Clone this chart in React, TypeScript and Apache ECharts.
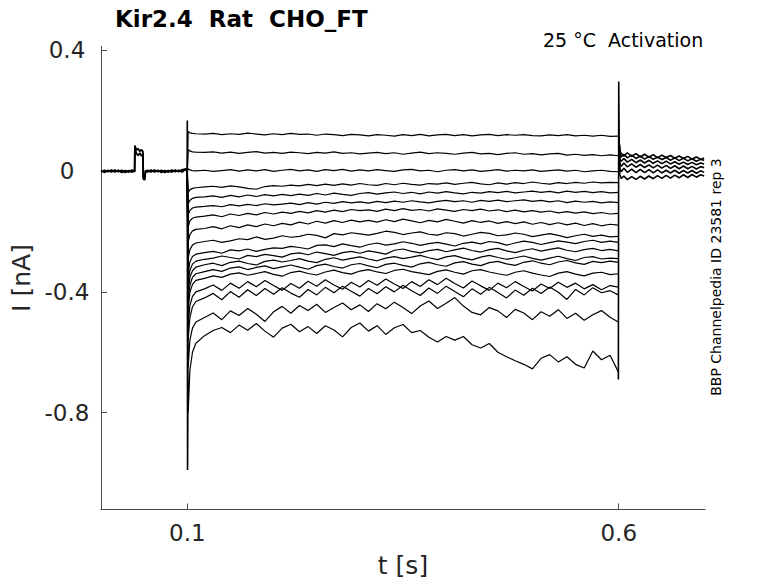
import React, { useEffect, useRef } from "react";
import * as echarts from "echarts";

// baseline before the step (s / nA), with the small test pulse
const preTime = [0, 0.004, 0.008, 0.012, 0.016, 0.02, 0.024, 0.028, 0.032, 0.036, 0.039, 0.0393, 0.041, 0.043, 0.045, 0.047, 0.0486, 0.049, 0.0505, 0.0515, 0.054, 0.058, 0.062, 0.066, 0.07, 0.074, 0.078, 0.082, 0.086, 0.09, 0.094, 0.098, 0.0995];
const preTraceA = [0.002, -0.004, 0.003, -0.003, 0.004, -0.002, 0.003, -0.004, 0.002, -0.003, 0.001, 0.085, 0.07, 0.074, 0.066, 0.071, 0.064, -0.025, -0.028, -0.004, 0.003, -0.003, 0.004, -0.002, 0.003, -0.004, 0.002, -0.003, 0.004, -0.002, 0.005, 0.006, 0.003];
const preTraceB = [-0.003, 0.003, -0.002, 0.004, -0.003, 0.003, -0.004, 0.002, -0.003, 0.004, -0.002, 0.078, 0.058, 0.052, 0.06, 0.05, 0.056, -0.02, -0.03, 0.002, -0.003, 0.004, -0.003, 0.003, -0.004, 0.002, -0.003, 0.004, -0.002, 0.003, -0.003, 0.008, -0.002];

// step segment, one row per sweep (nA)
const stepTime = [0.101, 0.103, 0.106, 0.11, 0.12, 0.13, 0.14, 0.15, 0.16, 0.17, 0.18, 0.19, 0.2, 0.21, 0.22, 0.23, 0.24, 0.25, 0.26, 0.27, 0.28, 0.29, 0.3, 0.31, 0.32, 0.33, 0.34, 0.35, 0.36, 0.37, 0.38, 0.39, 0.4, 0.41, 0.42, 0.43, 0.44, 0.45, 0.46, 0.47, 0.48, 0.49, 0.5, 0.51, 0.52, 0.53, 0.54, 0.55, 0.56, 0.57, 0.58, 0.59, 0.5995];

const sweep01 = [0.131, 0.127, 0.125, 0.124,
  0.123, 0.125, 0.121, 0.124, 0.122, 0.126, 0.123, 0.12, 0.124,
  0.121, 0.125, 0.122, 0.123, 0.119, 0.123, 0.121, 0.118, 0.122, 0.12,
  0.117, 0.121, 0.119, 0.116, 0.121, 0.118, 0.122, 0.117, 0.12, 0.122,
  0.118, 0.121, 0.117, 0.12, 0.122, 0.118, 0.121, 0.119, 0.121, 0.118,
  0.117, 0.12, 0.118, 0.121, 0.117, 0.119, 0.116, 0.119, 0.115,
  0.116];
const sweep02 = [0.072, 0.067, 0.064, 0.063,
  0.062, 0.064, 0.06, 0.063, 0.059, 0.062, 0.065, 0.06, 0.062,
  0.059, 0.063, 0.061, 0.058, 0.062, 0.06, 0.064, 0.059, 0.061, 0.057,
  0.06, 0.062, 0.058, 0.061, 0.056, 0.06, 0.063, 0.058, 0.061, 0.059,
  0.056, 0.06, 0.062, 0.057, 0.059, 0.055, 0.059, 0.061, 0.056, 0.058,
  0.054, 0.057, 0.059, 0.053, 0.056, 0.052, 0.055, 0.051, 0.054,
  0.051];
const sweep03 = [0.008, 0.004, 0.002, 0.001,
  0.003, -0.001, 0.002, 0.005, 0.0, 0.004, 0.001, 0.005, -0.001,
  0.003, 0.006, 0.001, 0.004, -0.001, 0.005, 0.002, 0.006, 0.0, 0.004,
  0.001, 0.005, 0.002, -0.001, 0.004, 0.006, 0.001, 0.003, -0.002, 0.003,
  0.005, 0.001, 0.004, -0.001, 0.002, 0.005, 0.0, 0.003, 0.001, 0.004,
  -0.001, 0.002, 0.004, 0.0, 0.003, -0.002, 0.001, 0.003, -0.001,
  -0.002];
const sweep04 = [-0.07, -0.062, -0.057, -0.055,
  -0.052, -0.05, -0.054, -0.049, -0.052, -0.057, -0.06, -0.051, -0.048,
  -0.05, -0.046, -0.049, -0.044, -0.048, -0.043, -0.047, -0.042, -0.046, -0.041,
  -0.045, -0.047, -0.041, -0.045, -0.04, -0.044, -0.046, -0.041, -0.043, -0.039,
  -0.044, -0.04, -0.037, -0.042, -0.045, -0.039, -0.043, -0.038, -0.041, -0.036,
  -0.04, -0.043, -0.038, -0.041, -0.037, -0.04, -0.036, -0.039, -0.037,
  -0.038];
const sweep05 = [-0.108, -0.097, -0.09, -0.087,
  -0.085, -0.082, -0.087, -0.08, -0.085, -0.079, -0.084, -0.078, -0.082,
  -0.077, -0.081, -0.076, -0.08, -0.074, -0.079, -0.073, -0.077, -0.08, -0.074,
  -0.071, -0.076, -0.072, -0.069, -0.074, -0.07, -0.075, -0.069, -0.073, -0.068,
  -0.072, -0.075, -0.07, -0.073, -0.068, -0.071, -0.067, -0.072, -0.069, -0.066,
  -0.07, -0.067, -0.072, -0.066, -0.07, -0.067, -0.071, -0.068, -0.072,
  -0.07];
const sweep06 = [-0.145, -0.13, -0.122, -0.119,
  -0.117, -0.114, -0.118, -0.111, -0.115, -0.11, -0.114, -0.108, -0.112,
  -0.109, -0.106, -0.111, -0.104, -0.109, -0.103, -0.107, -0.101, -0.105, -0.102,
  -0.106, -0.1, -0.104, -0.099, -0.103, -0.098, -0.102, -0.105, -0.1, -0.097,
  -0.101, -0.098, -0.103, -0.097, -0.1, -0.096, -0.101, -0.098, -0.095, -0.1,
  -0.097, -0.102, -0.098, -0.104, -0.099, -0.103, -0.1, -0.105, -0.102,
  -0.104];
const sweep07 = [-0.185, -0.165, -0.156, -0.152,
  -0.149, -0.145, -0.151, -0.142, -0.147, -0.14, -0.145, -0.137, -0.142,
  -0.136, -0.14, -0.133, -0.138, -0.131, -0.136, -0.129, -0.134, -0.127, -0.131,
  -0.128, -0.133, -0.126, -0.131, -0.124, -0.13, -0.127, -0.132, -0.125, -0.129,
  -0.133, -0.127, -0.131, -0.126, -0.132, -0.128, -0.134, -0.129, -0.135, -0.131,
  -0.136, -0.132, -0.138, -0.134, -0.139, -0.135, -0.141, -0.137, -0.142,
  -0.14];
const sweep08 = [-0.235, -0.21, -0.198, -0.193,
  -0.19, -0.184, -0.191, -0.181, -0.187, -0.178, -0.184, -0.175, -0.181,
  -0.173, -0.178, -0.169, -0.175, -0.166, -0.172, -0.164, -0.17, -0.162, -0.168,
  -0.163, -0.169, -0.161, -0.167, -0.159, -0.165, -0.171, -0.163, -0.168, -0.16,
  -0.166, -0.172, -0.164, -0.17, -0.165, -0.173, -0.167, -0.174, -0.168, -0.176,
  -0.17, -0.177, -0.171, -0.178, -0.172, -0.18, -0.174, -0.181, -0.176,
  -0.179];
const sweep09 = [-0.29, -0.26, -0.245, -0.238,
  -0.233, -0.229, -0.236, -0.231, -0.224, -0.227, -0.218, -0.226, -0.222,
  -0.214, -0.219, -0.216, -0.209, -0.213, -0.221, -0.207, -0.211, -0.204, -0.208,
  -0.212, -0.206, -0.199, -0.203, -0.21, -0.205, -0.201, -0.209, -0.212, -0.204,
  -0.207, -0.215, -0.209, -0.203, -0.206, -0.214, -0.211, -0.205, -0.209, -0.217,
  -0.212, -0.207, -0.213, -0.22, -0.214, -0.209, -0.216, -0.212, -0.218,
  -0.216];
const sweep10 = [-0.34, -0.3, -0.283, -0.275,
  -0.27, -0.266, -0.272, -0.261, -0.264, -0.258, -0.266, -0.259, -0.254,
  -0.256, -0.249, -0.253, -0.258, -0.246, -0.244, -0.25, -0.241, -0.247, -0.252,
  -0.243, -0.238, -0.245, -0.241, -0.234, -0.239, -0.246, -0.24, -0.236, -0.242,
  -0.248, -0.239, -0.235, -0.241, -0.233, -0.237, -0.245, -0.238, -0.232, -0.236,
  -0.243, -0.237, -0.231, -0.235, -0.24, -0.233, -0.229, -0.236, -0.232,
  -0.236];
const sweep11 = [-0.37, -0.328, -0.308, -0.298,
  -0.292, -0.288, -0.281, -0.286, -0.291, -0.279, -0.283, -0.276, -0.28,
  -0.285, -0.274, -0.271, -0.277, -0.268, -0.273, -0.279, -0.27, -0.266, -0.272,
  -0.264, -0.269, -0.275, -0.262, -0.258, -0.266, -0.271, -0.263, -0.259, -0.267,
  -0.261, -0.255, -0.263, -0.268, -0.26, -0.256, -0.264, -0.27, -0.262, -0.257,
  -0.265, -0.259, -0.254, -0.262, -0.267, -0.26, -0.256, -0.263, -0.259,
  -0.264];
const sweep12 = [-0.4, -0.352, -0.33, -0.318,
  -0.31, -0.305, -0.313, -0.302, -0.298, -0.306, -0.311, -0.299, -0.295,
  -0.301, -0.296, -0.29, -0.298, -0.303, -0.292, -0.287, -0.295, -0.289, -0.284,
  -0.291, -0.297, -0.288, -0.283, -0.29, -0.285, -0.279, -0.287, -0.293, -0.284,
  -0.28, -0.288, -0.294, -0.285, -0.279, -0.286, -0.292, -0.287, -0.281, -0.289,
  -0.295, -0.288, -0.282, -0.29, -0.296, -0.286, -0.283, -0.291, -0.288,
  -0.29];
const sweep13 = [-0.43, -0.378, -0.352, -0.34,
  -0.333, -0.326, -0.332, -0.321, -0.317, -0.326, -0.319, -0.314, -0.323,
  -0.317, -0.311, -0.318, -0.325, -0.313, -0.308, -0.316, -0.321, -0.31, -0.306,
  -0.314, -0.32, -0.309, -0.305, -0.312, -0.318, -0.307, -0.302, -0.31, -0.315,
  -0.304, -0.3, -0.308, -0.313, -0.303, -0.299, -0.307, -0.312, -0.302, -0.297,
  -0.305, -0.31, -0.301, -0.296, -0.304, -0.309, -0.299, -0.303, -0.298,
  -0.302];
const sweep14 = [-0.46, -0.402, -0.375, -0.362,
  -0.355, -0.347, -0.352, -0.341, -0.337, -0.345, -0.339, -0.333, -0.342,
  -0.348, -0.336, -0.331, -0.339, -0.344, -0.334, -0.328, -0.336, -0.341, -0.331,
  -0.326, -0.334, -0.339, -0.329, -0.325, -0.333, -0.338, -0.343, -0.332, -0.327,
  -0.335, -0.341, -0.33, -0.326, -0.334, -0.34, -0.345, -0.335, -0.33, -0.338,
  -0.344, -0.349, -0.338, -0.333, -0.341, -0.347, -0.338, -0.335, -0.343,
  -0.34];
const sweep15 = [-0.51, -0.445, -0.415, -0.4,
  -0.39, -0.377, -0.395, -0.371, -0.388, -0.366, -0.383, -0.362, -0.379,
  -0.395, -0.372, -0.388, -0.365, -0.381, -0.36, -0.377, -0.391, -0.368, -0.384,
  -0.362, -0.378, -0.357, -0.374, -0.389, -0.366, -0.382, -0.36, -0.376, -0.355,
  -0.372, -0.387, -0.364, -0.38, -0.395, -0.371, -0.386, -0.366, -0.382, -0.397,
  -0.374, -0.389, -0.368, -0.385, -0.371, -0.39, -0.376, -0.393, -0.379,
  -0.384];
const sweep16 = [-0.56, -0.485, -0.45, -0.432,
  -0.42, -0.405, -0.426, -0.399, -0.418, -0.393, -0.412, -0.389, -0.408,
  -0.386, -0.404, -0.418, -0.392, -0.41, -0.385, -0.403, -0.381, -0.398, -0.414,
  -0.389, -0.406, -0.383, -0.4, -0.378, -0.396, -0.412, -0.387, -0.405, -0.381,
  -0.399, -0.416, -0.39, -0.408, -0.385, -0.402, -0.42, -0.394, -0.411, -0.388,
  -0.405, -0.384, -0.401, -0.425, -0.392, -0.41, -0.386, -0.403, -0.396,
  -0.41];
const sweep17 = [-0.65, -0.56, -0.52, -0.5,
  -0.485, -0.47, -0.492, -0.463, -0.478, -0.455, -0.474, -0.498, -0.466,
  -0.448, -0.471, -0.445, -0.462, -0.441, -0.468, -0.452, -0.437, -0.459, -0.443,
  -0.465, -0.439, -0.456, -0.434, -0.452, -0.472, -0.447, -0.43, -0.455, -0.438,
  -0.419, -0.447, -0.468, -0.476, -0.452, -0.463, -0.485, -0.458, -0.47, -0.492,
  -0.466, -0.481, -0.459, -0.488, -0.471, -0.494, -0.476, -0.462, -0.484,
  -0.5];
const sweep18 = [-0.8, -0.66, -0.6, -0.57,
  -0.545, -0.528, -0.518, -0.535, -0.51, -0.527, -0.505, -0.53, -0.55,
  -0.52, -0.507, -0.532, -0.515, -0.538, -0.512, -0.526, -0.549, -0.518, -0.503,
  -0.53, -0.512, -0.541, -0.519, -0.508, -0.535, -0.528, -0.55, -0.566, -0.548,
  -0.56, -0.548, -0.575, -0.586, -0.571, -0.6, -0.615, -0.628, -0.64, -0.655,
  -0.62, -0.608, -0.632, -0.615, -0.64, -0.652, -0.596, -0.625, -0.61,
  -0.665];

// capacitive transients at step on / off
const onTime = [0.0998, 0.1, 0.1003, 0.1008];
const onValue = [0, 0.168, -0.99, -0.72];
const offTime = [0.5996, 0.6, 0.6006, 0.6012];
const offValue = [-0.69, 0.297, 0.09, 0.062];

// tail currents after the step
const tailTime = [0.6012, 0.603, 0.606, 0.61, 0.615, 0.62, 0.625, 0.63, 0.635, 0.64, 0.645, 0.65, 0.655, 0.66, 0.665, 0.67, 0.675, 0.68, 0.685, 0.69, 0.695, 0.699];
const tail1 = [0.068, 0.058, 0.05, 0.061, 0.049, 0.058, 0.047, 0.056, 0.046, 0.055, 0.044, 0.053, 0.045, 0.052, 0.043, 0.05, 0.042, 0.049, 0.04, 0.047, 0.039, 0.044];
const tail2 = [0.055, 0.047, 0.056, 0.044, 0.053, 0.042, 0.05, 0.04, 0.049, 0.039, 0.047, 0.038, 0.046, 0.036, 0.044, 0.035, 0.043, 0.034, 0.041, 0.033, 0.039, 0.036];
const tail3 = [0.04, 0.033, 0.042, 0.03, 0.039, 0.028, 0.037, 0.027, 0.036, 0.026, 0.034, 0.025, 0.033, 0.024, 0.031, 0.023, 0.03, 0.022, 0.029, 0.021, 0.027, 0.024];
const tail4 = [0.025, 0.016, 0.027, 0.014, 0.024, 0.013, 0.022, 0.012, 0.021, 0.011, 0.02, 0.01, 0.019, 0.009, 0.018, 0.008, 0.017, 0.008, 0.016, 0.007, 0.015, 0.011];
const tail5 = [0.008, -0.002, 0.01, -0.004, 0.007, -0.005, 0.006, -0.005, 0.005, -0.006, 0.004, -0.006, 0.003, -0.006, 0.003, -0.007, 0.002, -0.006, 0.002, -0.007, 0.001, -0.004];
const tail6 = [-0.012, -0.024, -0.016, -0.028, -0.018, -0.027, -0.017, -0.026, -0.016, -0.025, -0.015, -0.024, -0.014, -0.023, -0.013, -0.022, -0.012, -0.021, -0.011, -0.02, -0.012, -0.016];

const xTicks = [0.1, 0.6];
const yTicks = [-0.8, -0.4, 0, 0.4];

const sweeps = [sweep01, sweep02, sweep03, sweep04, sweep05, sweep06, sweep07, sweep08, sweep09,
  sweep10, sweep11, sweep12, sweep13, sweep14, sweep15, sweep16, sweep17, sweep18];
const tails = [tail1, tail2, tail3, tail4, tail5, tail6];

const FONT = "DejaVu Sans";
const INK = "#262626";

const pair = (t: number[], v: number[]) => {
  const n = Math.min(t.length, v.length);
  const out: number[][] = [];
  for (let i = 0; i < n; i++) out.push([t[i], v[i]]);
  return out;
};

const trace = (data: number[][], width = 1.2) => ({
  type: "line",
  data,
  showSymbol: false,
  symbol: "none",
  silent: true,
  lineStyle: { color: "#000", width },
});

const App: React.FC = () => {
  const chartRef = useRef<HTMLDivElement>(null);

  useEffect(() => {
    if (!chartRef.current) return;
    const chart = echarts.init(chartRef.current, undefined, { renderer: "svg" });

    const series: any[] = [
      trace(pair(preTime, preTraceA), 1.8),
      trace(pair(preTime, preTraceB), 1.8),
      ...sweeps.map((s) => trace([[0.1, 0], ...pair(stepTime, s)])),
      trace(pair(onTime, onValue), 1.6),
      trace(pair(offTime, offValue), 1.6),
      ...tails.map((s) => trace([[0.6006, 0.09], ...pair(tailTime, s)], 1.6)),
    ];

    chart.setOption({
      animation: false,
      backgroundColor: "#fff",
      grid: { left: 101, right: 73, top: 46.5, bottom: 71, containLabel: false },
      xAxis: {
        type: "value",
        min: 0,
        max: 0.7,
        name: "t [s]",
        nameLocation: "middle",
        nameGap: 56,
        nameTextStyle: { fontFamily: FONT, fontSize: 25, color: INK, verticalAlign: "middle" },
        axisLine: { show: true, onZero: false, lineStyle: { color: "#4a4a4a", width: 1 } },
        axisTick: { show: true, inside: true, length: 6, customValues: xTicks, lineStyle: { color: "#4a4a4a" } },
        axisLabel: {
          customValues: xTicks,
          fontFamily: FONT,
          fontSize: 23,
          color: INK,
          margin: 12,
          formatter: (v: number) => String(v),
        },
        splitLine: { show: false },
      },
      yAxis: {
        type: "value",
        min: -1.121,
        max: 0.413,
        name: "I [nA]",
        nameLocation: "middle",
        nameGap: 74,
        nameTextStyle: { fontFamily: FONT, fontSize: 25, color: INK, verticalAlign: "middle" },
        axisLine: { show: true, onZero: false, lineStyle: { color: "#4a4a4a", width: 1 } },
        axisTick: { show: true, inside: true, length: 6, customValues: yTicks, lineStyle: { color: "#4a4a4a" } },
        axisLabel: {
          customValues: yTicks,
          fontFamily: FONT,
          fontSize: 23,
          color: INK,
          align: "center",
          margin: 34,
          formatter: (v: number) => (Math.abs(v) < 1e-9 ? "0" : String(v)),
        },
        splitLine: { show: false },
      },
      graphic: [
        {
          type: "text",
          x: 115,
          y: 18.5,
          style: {
            text: "Kir2.4  Rat  CHO_FT",
            fontFamily: FONT,
            fontSize: 23,
            fontWeight: "bold",
            fill: "#000",
            verticalAlign: "middle",
          },
        },
        {
          type: "text",
          x: 543,
          y: 40,
          style: {
            text: "25 °C  Activation",
            fontFamily: FONT,
            fontSize: 19,
            fill: "#000",
            verticalAlign: "middle",
          },
        },
        {
          type: "text",
          x: 716,
          y: 277,
          rotation: Math.PI / 2,
          style: {
            text: "BBP Channelpedia ID 23581 rep 3",
            fontFamily: FONT,
            fontSize: 14,
            fill: "#000",
            align: "center",
            verticalAlign: "middle",
          },
        },
      ],
      series,
    });

    return () => {
      chart.dispose();
    };
  }, []);

  return (
    <div
      ref={chartRef}
      style={{ position: "fixed", left: 0, top: 0, width: 778, height: 583, background: "#fff" }}
    />
  );
};

export default App;
